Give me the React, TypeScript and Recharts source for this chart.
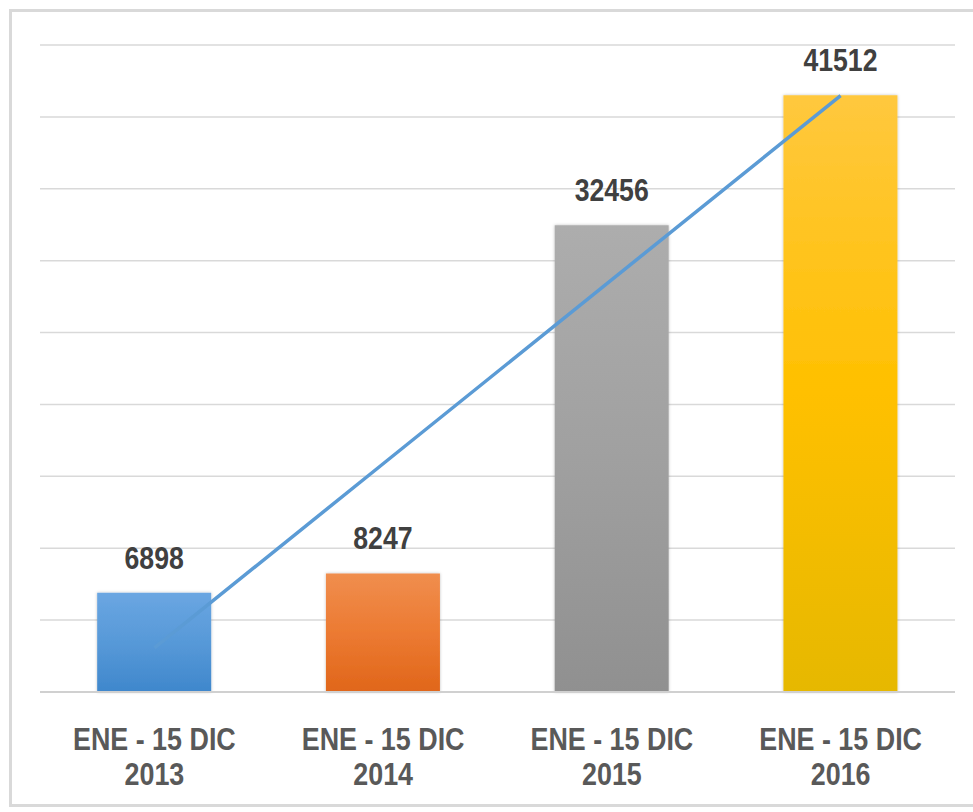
import React from "react";
import { ComposedChart, Bar, Line, XAxis, YAxis, CartesianGrid, Cell, LabelList } from "recharts";

const periodLabel = "ENE - 15 DIC";
const years = ["2013", "2014", "2015", "2016"];
const values = [6898, 8247, 32456, 41512];
const yTicks = [0, 5000, 10000, 15000, 20000, 25000, 30000, 35000, 40000, 45000];
const gradientTop = ["#6aa6e2", "#f08e4e", "#adadad", "#ffc83e"];
const gradientMid = ["#5799d8", "#ec7a32", "#a0a0a0", "#ffc000"];
const gradientBottom = ["#3f87cc", "#e0661a", "#909090", "#e6b800"];

// least-squares trend line through the bar values (as in the original chart's linear trendline)
const n = values.length;
const xMean = (n + 1) / 2;
const yMean = values.reduce((a, b) => a + b, 0) / n;
let num = 0;
let den = 0;
values.forEach((v, i) => {
  num += (i + 1 - xMean) * (v - yMean);
  den += (i + 1 - xMean) * (i + 1 - xMean);
});
const slope = num / den;
const intercept = yMean - slope * xMean;

const data = years.map((y, i) => ({
  name: y,
  value: values[i],
  trend: intercept + slope * (i + 1),
}));

const FONT = "'Liberation Sans', Arial, sans-serif";

const XTick = (props: any) => {
  const { x, payload } = props;
  return (
    <g>
      <text
        transform={`translate(${x},750) scale(0.84,1)`}
        textAnchor="middle"
        fontFamily={FONT}
        fontWeight="bold"
        fontSize={32}
        fill="#595959"
      >
        {periodLabel}
      </text>
      <text
        transform={`translate(${x},785) scale(0.84,1)`}
        textAnchor="middle"
        fontFamily={FONT}
        fontWeight="bold"
        fontSize={32}
        fill="#595959"
      >
        {payload.value}
      </text>
    </g>
  );
};

const ValueLabel = (props: any) => {
  const { x, y, width, value } = props;
  return (
    <text
      transform={`translate(${x + width / 2},${y - 24}) scale(0.86,1)`}
      textAnchor="middle"
      fontFamily={FONT}
      fontWeight="bold"
      fontSize={31}
      fill="#404040"
    >
      {value}
    </text>
  );
};

export default function App() {
  return (
    <div>
      <div
        style={{
          position: "fixed",
          left: 9,
          top: 9,
          width: 990,
          height: 798,
          border: "3px solid #d9d9d9",
          background: "#ffffff",
          boxSizing: "border-box",
        }}
      />
      <div style={{ position: "fixed", left: 0, top: 0 }}>
        <ComposedChart
          width={973}
          height={812}
          data={data}
          margin={{ top: 45, right: 18, bottom: 90, left: 40 }}
          barCategoryGap="25%"
        >
          <defs>
            {years.map((_, i) => (
              <linearGradient key={i} id={`grad-${i}`} x1="0" y1="0" x2="0" y2="1">
                <stop offset="0%" stopColor={gradientTop[i]} />
                <stop offset="50%" stopColor={gradientMid[i]} />
                <stop offset="100%" stopColor={gradientBottom[i]} />
              </linearGradient>
            ))}
            <filter id="barShadow" x="-10%" y="-10%" width="120%" height="120%">
              <feDropShadow dx="0" dy="0" stdDeviation="1.5" floodColor="#000" floodOpacity="0.25" />
            </filter>
          </defs>
          <CartesianGrid vertical={false} stroke="#d9d9d9" strokeWidth={1.5} />
          <XAxis
            dataKey="name"
            height={30}
            axisLine={{ stroke: "#d0d0d0", strokeWidth: 2 }}
            tickLine={false}
            tick={<XTick />}
            interval={0}
          />
          <YAxis hide domain={[0, 45000]} ticks={yTicks} />
          <Bar dataKey="value" isAnimationActive={false} style={{ filter: "url(#barShadow)" }}>
            {data.map((_, i) => (
              <Cell key={i} fill={`url(#grad-${i})`} />
            ))}
            <LabelList dataKey="value" content={<ValueLabel />} />
          </Bar>
          <Line
            dataKey="trend"
            type="linear"
            stroke="#5b9bd5"
            strokeWidth={3.5}
            dot={false}
            activeDot={false}
            isAnimationActive={false}
          />
        </ComposedChart>
      </div>
    </div>
  );
}
